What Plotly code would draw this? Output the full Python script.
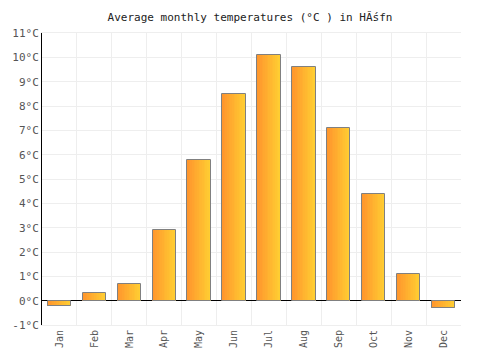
import plotly.graph_objects as go

months = ["Jan", "Feb", "Mar", "Apr", "May", "Jun", "Jul", "Aug", "Sep", "Oct", "Nov", "Dec"]
temps = [-0.2, 0.3, 0.7, 2.9, 5.8, 8.5, 10.1, 9.6, 7.1, 4.4, 1.1, -0.3]
y_ticks = list(range(-1, 12))
y_tick_labels = [f"{v}°C" for v in y_ticks]

fig = go.Figure()

bar_w = 0.67
n = 14
c0 = (255, 150, 45)
c1 = (255, 205, 50)
for i in range(n):
    t = i / (n - 1)
    col = "rgb({},{},{})".format(*[round(a + (b - a) * t) for a, b in zip(c0, c1)])
    fig.add_trace(go.Bar(
        x=months, y=temps, width=bar_w / n, offset=-bar_w / 2 + i * bar_w / n,
        marker=dict(color=col, line=dict(width=0)), hoverinfo="skip", showlegend=False,
    ))
fig.add_trace(go.Bar(
    x=months, y=temps, width=bar_w, offset=-bar_w / 2,
    marker=dict(color="rgba(0,0,0,0)", line=dict(color="#808080", width=1)),
    showlegend=False,
))

fig.update_layout(
    width=500, height=350, barmode="overlay",
    margin=dict(l=42, r=39, t=33, b=25, autoexpand=False),
    paper_bgcolor="white", plot_bgcolor="white",
    title=dict(text="Average monthly temperatures (°C ) in HĂśfn", x=0.5, xanchor="center",
               y=1 - 17 / 350, yanchor="middle",
               font=dict(family="DejaVu Sans Mono", size=11, color="#222")),
    font=dict(family="DejaVu Sans Mono", size=11, color="#555"),
    xaxis=dict(type="category", tickson="boundaries", showgrid=True, gridcolor="#eeeeee",
               tickangle=-90, ticks="", showline=True, linecolor="#eeeeee", mirror=True,
               tickfont=dict(size=10), range=[-0.5, 11.5], automargin=False),
    yaxis=dict(range=[-1, 11], tickvals=y_ticks, ticktext=y_tick_labels, showgrid=True,
               gridcolor="#eeeeee", zeroline=True, zerolinecolor="#000", zerolinewidth=1,
               showline=True, linecolor="#000", linewidth=1, ticks="", ticklen=4,
               tickfont=dict(size=11), automargin=False),
    bargap=0,
)
fig.write_html("out.html")
